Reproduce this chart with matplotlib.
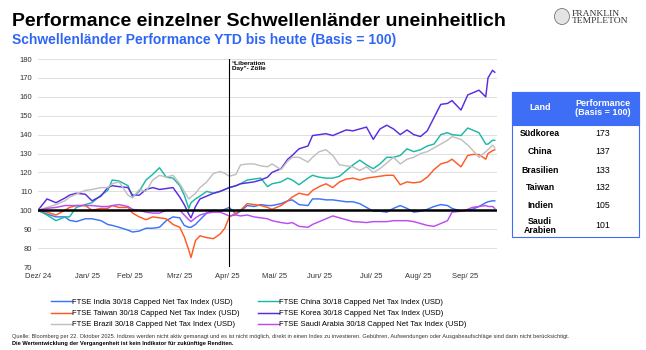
import numpy as np
import matplotlib.pyplot as plt
from matplotlib.patches import Rectangle, Ellipse

plt.rcParams['font.family'] = ['Liberation Sans', 'DejaVu Sans']

# Handelstage seit Jahresbeginn (Index), Basis = 100
handelstag = [0, 4, 8, 12, 14, 17, 21, 24, 28, 31,
              33, 36, 40, 42, 45, 48, 51, 54, 57, 60,
              63, 65, 67, 68, 70, 72, 75, 78, 81, 83,
              85, 88, 90, 93, 96, 99, 102, 104, 108, 111,
              113, 116, 120, 122, 125, 128, 131, 134, 137, 140,
              143, 146, 149, 152, 155, 158, 161, 164, 167, 170,
              173, 176, 179, 182, 184, 188, 191, 193, 196, 199,
              200, 202, 203]

indien = [100, 98, 96.5, 96.5, 94.7, 94, 95.5, 95.5, 94.5, 92.5,
          92, 91, 89.5, 88.5, 89, 90.5, 90.5, 91, 94.5, 96.5,
          96, 92, 91, 91, 92.5, 95, 98.5, 100, 99.5, 100.5,
          101.5, 98, 99.5, 102.5, 102, 103, 102.5, 102.5, 103.5, 105,
          105.5, 103, 102.5, 106, 106, 105.5, 105.5, 105, 104.5, 104.5,
          103.5, 101.5, 99.5, 99.5, 99, 101, 102.5, 101, 99, 99.5,
          100.5, 102, 103, 102.5, 101, 99.5, 100, 100.5, 102, 104,
          104.5, 105, 105]

china = [100, 97.5, 94.5, 96.5, 96.5, 101.5, 103, 104, 108, 110.5,
         116, 115.5, 113, 107, 110, 116, 119, 122.5, 117.5, 117,
         113, 108, 101, 104, 106, 107.5, 110, 109, 110, 111,
         112, 113, 114, 116, 116.5, 117, 112.5, 114, 115, 117,
         116, 113.5, 117, 118.5, 117.5, 117, 117, 118, 121, 124,
         126.5, 124, 122, 124.5, 128, 128, 129, 132.5, 131, 132,
         134, 135, 140, 141, 140, 139.5, 143.5, 142.5, 141, 135,
         135, 137, 137]

taiwan = [100, 99, 97.5, 100, 101.5, 102.5, 102.5, 100, 101, 101,
          102.5, 101.5, 101.5, 98.5, 96.5, 95, 96.5, 96, 95.5, 92.5,
          91, 86, 79, 75, 84, 86.5, 85.5, 85, 87.5, 90.5,
          96.5, 98.5, 100, 103.5, 103, 102.5, 101.5, 100.5, 102.5, 105,
          107, 109, 108, 110.5, 112.5, 114, 112, 115, 116.5, 117,
          116, 117, 117.5, 118, 118.5, 118.5, 113.5, 115, 114.5, 115,
          117.5, 121.5, 124.5, 125.5, 127, 123, 129, 129.5, 129.5, 127,
          130, 131.5, 132]

korea = [100, 106, 104, 106.5, 108, 109, 108.5, 105, 107.5, 112,
         113, 112.5, 112, 108, 108, 111, 112, 111, 111.5, 112,
         107, 103, 98, 96, 102, 106, 107.5, 109, 110, 111,
         112, 113, 114, 114.5, 115, 116, 117.5, 120, 122, 127,
         129, 132.5, 134, 139.5, 140, 140.5, 139.5, 141, 142.5, 142,
         143, 144, 137.5, 143, 145, 143, 140, 142.5, 140, 139,
         142, 149, 156, 156.5, 158, 153, 161, 162, 163.5, 160,
         170, 174, 173]

brasilien = [100, 101.5, 103, 105, 107, 108.5, 110.5, 111, 112, 112,
             114, 115, 108, 106.5, 111, 110, 116, 118.5, 117.5, 118.5,
             114, 110, 106, 107, 109, 112, 115, 119.5, 120.5, 119.5,
             118, 119, 124, 124.5, 124.5, 123.5, 123, 124.5, 121.5, 126,
             128, 128, 125.5, 128, 131, 132, 129, 124, 123.5, 123,
             121, 123, 120, 122, 125, 128, 124.5, 127, 128, 130,
             131, 133, 135, 137, 139, 137.5, 134.5, 132, 128, 131,
             132, 134.5, 133]

saudi = [100, 101, 101.5, 102.5, 102.5, 102.5, 102.5, 102.5, 102, 102,
         102.5, 103, 102, 100.5, 100, 99, 98.5, 98.5, 100, 100,
         100, 97.5, 95, 94, 96, 97.5, 98.5, 99, 99, 98,
         97, 97.5, 97, 97.5, 96.5, 96, 95.5, 94.5, 93.5, 93,
         93.5, 91.5, 91, 92.5, 94, 95.5, 97, 96, 95, 94,
         93.8, 93.5, 94, 94, 94, 94.5, 94.5, 94.5, 94, 93,
         92, 91.5, 93, 94.5, 99, 99.5, 100.5, 101.5, 102, 102.5,
         102, 102, 101]

monate = ['Dez/ 24', 'Jan/ 25', 'Feb/ 25', 'Mrz/ 25', 'Apr/ 25',
          'Mai/ 25', 'Jun/ 25', 'Jul/ 25', 'Aug/ 25', 'Sep/ 25']
monat_pos = [0, 22, 41, 63, 84, 105, 125, 148, 169, 190]
liberation_day = 85

# Tabelle rechts
laender = ['Südkorea', 'China', 'Brasilien', 'Taiwan', 'Indien', 'Saudi\nArabien']
performance = [173, 137, 133, 132, 105, 101]

serien = {
    'india': ('FTSE India 30/18 Capped Net Tax Index (USD)', indien, '#3D74F7'),
    'china': ('FTSE China 30/18 Capped Net Tax Index (USD)', china, '#1DB8A6'),
    'taiwan': ('FTSE Taiwan 30/18 Capped Net Tax Index (USD)', taiwan, '#FF5A24'),
    'korea': ('FTSE Korea 30/18 Capped Net Tax Index (USD)', korea, '#5A2BE3'),
    'brazil': ('FTSE Brazil 30/18 Capped Net Tax Index (USD)', brasilien, '#C0C0C0'),
    'saudi': ('FTSE Saudi Arabia 30/18 Capped Net Tax Index (USD)', saudi, '#BC4DF0'),
}

fig = plt.figure(figsize=(6.46, 3.5), dpi=100)

# Titel
fig.text(12 / 646, 1 - 21 / 350, 'Performance einzelner Schwellenländer uneinheitlich',
         fontsize=14, fontweight='bold', color='black', va='center', ha='left')
fig.text(12 / 646, 1 - 40 / 350, 'Schwellenländer Performance YTD bis heute (Basis = 100)',
         fontsize=10, fontweight='bold', color='#2F66F5', va='center', ha='left')

# Logo (vereinfacht)
fig.patches.append(Ellipse((562 / 646, 1 - 16.5 / 350), 15 / 646, 16 / 350,
                           transform=fig.transFigure, facecolor='#E4E4E4',
                           edgecolor='#777777', lw=0.6))
fig.text(572 / 646, 1 - 13.5 / 350, 'FRANKLIN', family='Liberation Serif',
         fontsize=6.8, color='#333333', va='center', ha='left')
fig.text(572 / 646, 1 - 21 / 350, 'TEMPLETON', family='Liberation Serif',
         fontsize=6.8, color='#333333', va='center', ha='left')

# Hauptdiagramm
ax = fig.add_axes([38 / 646, 1 - 267 / 350, (497 - 38) / 646, (267 - 59) / 350])
lines = {}
for key in ['india', 'china', 'taiwan', 'korea', 'brazil', 'saudi']:
    label, werte, farbe = serien[key]
    lines[key], = ax.plot(handelstag, werte, color=farbe, lw=1.05, label=label)

ax.axhline(100, color='black', lw=1.8, zorder=5)
ax.axvline(liberation_day, color='black', lw=0.8, zorder=5)
ax.text(liberation_day + 1.2, 179, '“Liberation\nDay”- Zölle', fontsize=4.6,
        fontweight='bold', va='top', ha='left', linespacing=1.1)

ax.set_xlim(0, 204)
ax.set_ylim(70, 180)
ax.set_yticks(np.arange(70, 181, 10))
ax.set_xticks(monat_pos)
ax.set_xticklabels(monate)
ax.grid(axis='y', color='#D9D9D9', lw=0.6)
ax.set_axisbelow(True)
for s in ax.spines.values():
    s.set_visible(False)
ax.tick_params(length=0, labelsize=5.5, labelcolor='#333333', pad=4)

# Legende (spaltenweise)
order = ['india', 'taiwan', 'brazil', 'china', 'korea', 'saudi']
fig.legend([lines[k] for k in order], [serien[k][0] for k in order],
           ncol=2, loc='upper left', bbox_to_anchor=(47 / 646, 1 - 295 / 350),
           frameon=False, fontsize=5.5, handlelength=2.75, handletextpad=0.05,
           columnspacing=2.4, labelspacing=0.5, borderpad=0)

# Tabelle
tx0, tx1 = 512, 639
ty0, ty1, th = 92, 237, 125
fig.patches.append(Rectangle((tx0 / 646, 1 - ty1 / 350), (tx1 - tx0) / 646,
                             (ty1 - ty0) / 350, transform=fig.transFigure,
                             facecolor='white', edgecolor='#3D6EF5', lw=0.8))
fig.patches.append(Rectangle((tx0 / 646, 1 - th / 350), (tx1 - tx0) / 646,
                             (th - ty0) / 350, transform=fig.transFigure,
                             facecolor='#3D6EF5', edgecolor='#3D6EF5', lw=0.8))
fig.text(540 / 646, 1 - 108 / 350, 'Land', fontsize=6.5, fontweight='bold',
         color='white', ha='center', va='center')
fig.text(603 / 646, 1 - 108 / 350, 'Performance\n(Basis = 100)', fontsize=6.5,
         fontweight='bold', color='white', ha='center', va='center', linespacing=1.1)
zeilen_y = [134, 152, 170, 188, 205, 226]
for land, wert, y in zip(laender, performance, zeilen_y):
    fig.text(540 / 646, 1 - y / 350, land, fontsize=6.3, fontweight='bold',
             ha='center', va='center', linespacing=1.05)
    fig.text(603 / 646, 1 - y / 350, str(wert), fontsize=6.3,
             ha='center', va='center')

# Fußnote
fig.text(12 / 646, 1 - 336.5 / 350,
         'Quelle: Bloomberg per 22. Oktober 2025. Indizes werden nicht aktiv gemanagt und es ist '
         'nicht möglich, direkt in einen Index zu investieren. Gebühren, Aufwendungen oder '
         'Ausgabeaufschläge sind darin nicht berücksichtigt.',
         fontsize=4.1, color='#333333', va='center', ha='left')
fig.text(12 / 646, 1 - 343 / 350,
         'Die Wertentwicklung der Vergangenheit ist kein Indikator für zukünftige Renditen.',
         fontsize=4.1, fontweight='bold', color='black', va='center', ha='left')

fig.savefig('out.png', dpi=100)
